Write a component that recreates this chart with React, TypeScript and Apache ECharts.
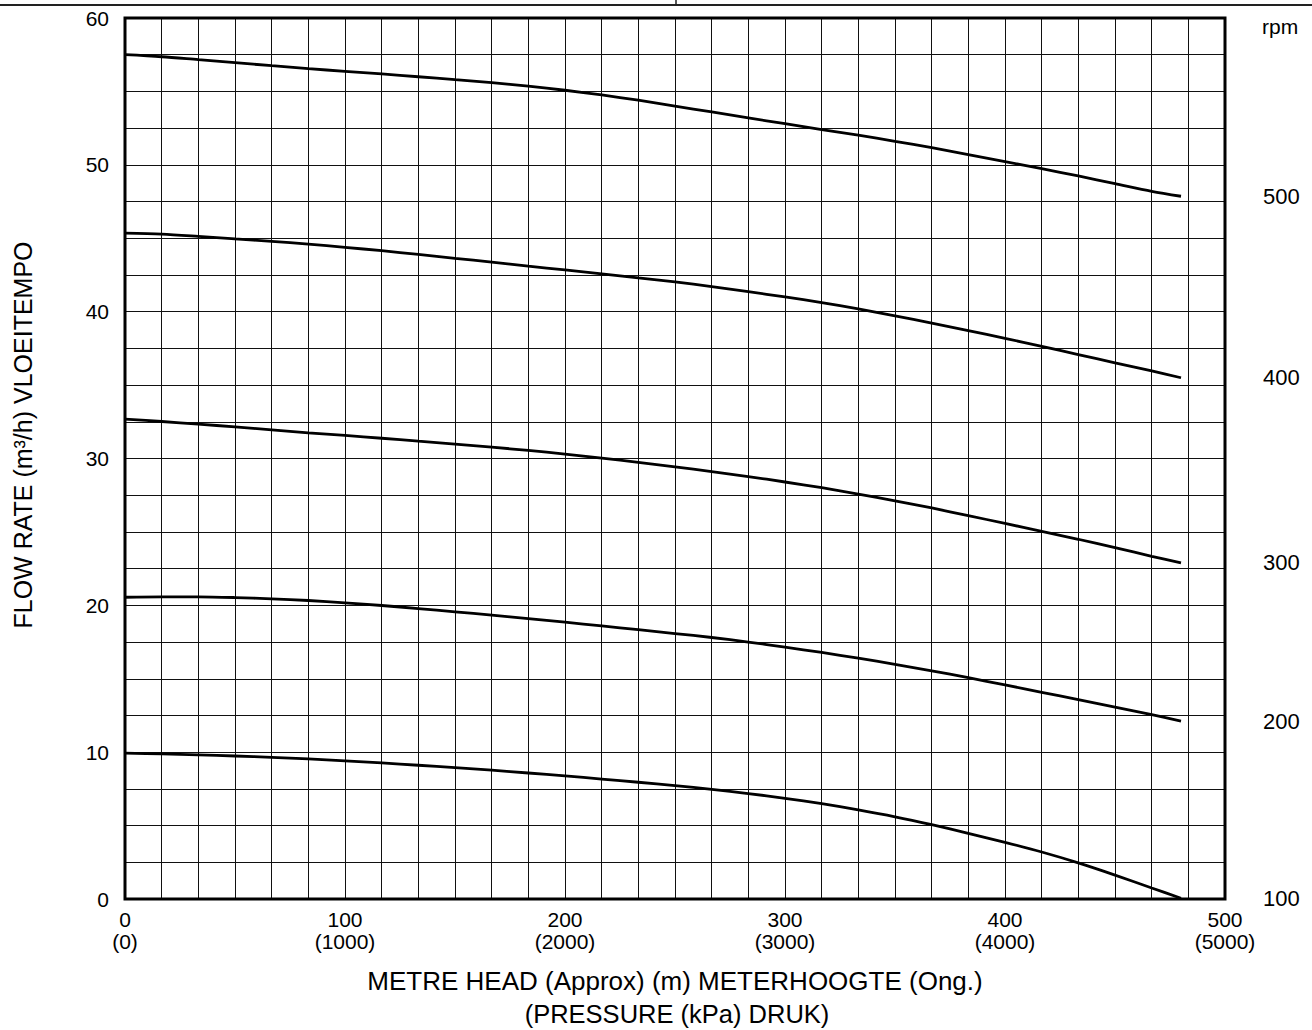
import React, { useEffect, useRef } from "react";
import * as echarts from "echarts";

// Head in metres (x axis)
const heads = [0, 16.7, 33.3, 50, 66.7, 83.3, 100, 116.7, 133.3, 150, 166.7, 183.3, 200, 216.7, 233.3, 250, 266.7, 283.3, 300, 316.7, 333.3, 350, 366.7, 383.3, 400, 416.7, 433.3, 450, 466.7, 480];

// Flow rate (m³/h) per pump speed
const rpm500 = [57.5, 57.36, 57.16, 56.96, 56.75, 56.55, 56.37, 56.19, 56.0, 55.8, 55.6, 55.36, 55.08, 54.76, 54.4, 54.0, 53.6, 53.2, 52.8, 52.4, 52.02, 51.6, 51.17, 50.7, 50.22, 49.74, 49.24, 48.72, 48.2, 47.86];
const rpm400 = [45.35, 45.28, 45.13, 44.96, 44.79, 44.6, 44.38, 44.15, 43.9, 43.63, 43.38, 43.1, 42.84, 42.57, 42.3, 42.03, 41.71, 41.36, 41.0, 40.62, 40.19, 39.72, 39.22, 38.71, 38.18, 37.64, 37.08, 36.52, 35.97, 35.5];
const rpm300 = [32.68, 32.52, 32.34, 32.15, 31.95, 31.75, 31.57, 31.38, 31.18, 30.98, 30.77, 30.55, 30.3, 30.03, 29.74, 29.43, 29.11, 28.77, 28.4, 28.01, 27.58, 27.12, 26.63, 26.11, 25.58, 25.04, 24.5, 23.93, 23.34, 22.89];
const rpm200 = [20.55, 20.58, 20.58, 20.53, 20.44, 20.33, 20.17, 19.99, 19.78, 19.56, 19.33, 19.1, 18.85, 18.6, 18.34, 18.08, 17.81, 17.5, 17.15, 16.79, 16.4, 15.98, 15.54, 15.07, 14.58, 14.08, 13.58, 13.07, 12.55, 12.12];
const rpm100 = [9.93, 9.88, 9.81, 9.74, 9.65, 9.54, 9.41, 9.27, 9.11, 8.95, 8.77, 8.58, 8.38, 8.17, 7.95, 7.72, 7.47, 7.18, 6.86, 6.49, 6.07, 5.6, 5.06, 4.47, 3.86, 3.2, 2.46, 1.63, 0.75, 0.05];

const speedSeries = [rpm100, rpm200, rpm300, rpm400, rpm500];
const speedLabels = ["100", "200", "300", "400", "500"];

const xTitle1 = "METRE HEAD (Approx) (m) METERHOOGTE (Ong.)";
const xTitle2 = "(PRESSURE (kPa) DRUK)";
const yTitle = "FLOW RATE (m³/h) VLOEITEMPO";
const rightTitle = "rpm";

const FONT = "'Liberation Sans', Arial, Helvetica, sans-serif";

export default function App() {
  const ref = useRef<HTMLDivElement>(null);

  useEffect(() => {
    if (!ref.current) return;
    const chart = echarts.init(ref.current, undefined, { renderer: "svg" });
    const endValues = speedSeries.map((s) => s[s.length - 1]);

    const option: any = {
      animation: false,
      backgroundColor: "#fff",
      textStyle: { fontFamily: FONT, color: "#000" },
      grid: {
        left: 125,
        right: 87,
        top: 18,
        bottom: 131,
        show: true,
        borderColor: "#000",
        borderWidth: 3,
        z: 3,
      },
      xAxis: {
        type: "value",
        min: 0,
        max: 500,
        interval: 100,
        axisLine: { show: false },
        axisTick: { show: false },
        minorTick: { show: false, splitNumber: 6 },
        splitLine: { show: true, lineStyle: { color: "#111", width: 1 } },
        minorSplitLine: { show: true, lineStyle: { color: "#111", width: 1 } },
        axisLabel: {
          fontFamily: FONT,
          fontSize: 21,
          lineHeight: 22,
          color: "#000",
          margin: 9,
          formatter: (v: number) => `${v}\n(${v * 10})`,
        },
      },
      yAxis: [
        {
          type: "value",
          min: 0,
          max: 60,
          interval: 10,
          axisLine: { show: false },
          axisTick: { show: false },
          minorTick: { show: false, splitNumber: 4 },
          splitLine: { show: true, lineStyle: { color: "#111", width: 1 } },
          minorSplitLine: { show: true, lineStyle: { color: "#111", width: 1 } },
          axisLabel: {
            fontFamily: FONT,
            fontSize: 21,
            color: "#000",
            margin: 16,
          },
        },
        {
          type: "value",
          position: "right",
          min: 0,
          max: 60,
          axisLine: { show: false },
          axisTick: { show: false },
          splitLine: { show: false },
          axisLabel: {
            fontFamily: FONT,
            fontSize: 22,
            color: "#000",
            margin: 38,
            customValues: endValues,
            formatter: (v: number) => {
              const i = endValues.findIndex((e) => Math.abs(e - v) < 1e-6);
              return i >= 0 ? speedLabels[i] : "";
            },
          },
        },
      ],
      series: speedSeries.map((vals, i) => ({
        name: speedLabels[i] + " rpm",
        type: "line",
        yAxisIndex: 0,
        data: heads.map((h, j) => [h, vals[j]]),
        smooth: 0.3,
        showSymbol: false,
        symbol: "none",
        lineStyle: { color: "#000", width: 2.8 },
        z: 5,
      })),
      graphic: [
        {
          type: "line",
          shape: { x1: 0, y1: 5, x2: 1312, y2: 5 },
          style: { stroke: "#222", lineWidth: 2 },
        },
        {
          type: "line",
          shape: { x1: 676, y1: 0, x2: 676, y2: 5 },
          style: { stroke: "#222", lineWidth: 1.5 },
        },
        {
          type: "text",
          x: 1262,
          y: 26,
          style: {
            text: rightTitle,
            font: `21px ${FONT}`,
            fill: "#000",
            textAlign: "left",
            textVerticalAlign: "middle",
          },
        },
        {
          type: "text",
          x: 675,
          y: 981,
          style: {
            text: xTitle1,
            font: `26px ${FONT}`,
            fill: "#000",
            textAlign: "center",
            textVerticalAlign: "middle",
          },
        },
        {
          type: "text",
          x: 677,
          y: 1014,
          style: {
            text: xTitle2,
            font: `25.5px ${FONT}`,
            fill: "#000",
            textAlign: "center",
            textVerticalAlign: "middle",
          },
        },
        {
          type: "text",
          x: 23,
          y: 435,
          rotation: Math.PI / 2,
          style: {
            text: yTitle,
            font: `25px ${FONT}`,
            fill: "#000",
            textAlign: "center",
            textVerticalAlign: "middle",
          },
        },
      ],
    };

    chart.setOption(option);
    return () => chart.dispose();
  }, []);

  return (
    <div
      ref={ref}
      style={{ position: "absolute", left: 0, top: 0, width: 1312, height: 1030 }}
    />
  );
}
